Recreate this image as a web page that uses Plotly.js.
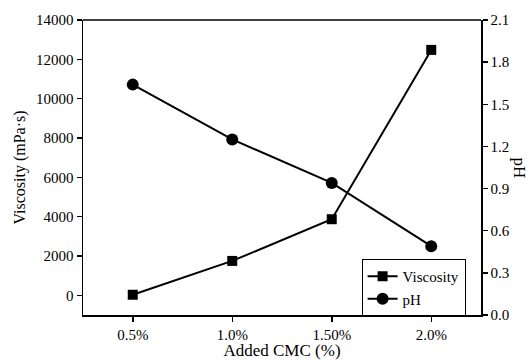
<!DOCTYPE html>
<html><head><meta charset="utf-8">
<script src="https://cdn.plot.ly/plotly-3.0.1.min.js"></script>
<style>html,body{margin:0;padding:0;background:#fff}#c{width:530px;height:360px}</style>
</head><body><div id="c"></div>
<script>
const categories = ["0.5%", "1.0%", "1.50%", "2.0%"];
const viscosity = [30, 1750, 3870, 12480];
const pH = [1.64, 1.25, 0.94, 0.49];
const viscTicks = [0, 2000, 4000, 6000, 8000, 10000, 12000, 14000];
const pHTicks = [0, 0.3, 0.6, 0.9, 1.2, 1.5, 1.8, 2.1];

const fam = "'Liberation Serif', 'Times New Roman', serif";
const f = (s) => ({family: fam, size: s, color: "#000"});
const traces = [
  {x: categories, y: viscosity, name: "Viscosity", type: "scatter", mode: "lines+markers",
   line: {color: "#000", width: 2}, marker: {symbol: "square", size: 10, color: "#000"}},
  {x: categories, y: pH, name: "pH", type: "scatter", mode: "lines+markers", yaxis: "y2",
   line: {color: "#000", width: 2}, marker: {symbol: "circle", size: 12, color: "#000"}}
];
const axisCommon = {showline: true, linecolor: "#000", linewidth: 1.5, ticks: "outside",
  ticklen: 5, tickwidth: 1.5, tickcolor: "#000", showgrid: false, zeroline: false,
  tickfont: f(15)};
const layout = {
  width: 530, height: 360, margin: {l: 83, r: 49, t: 20, b: 45},
  paper_bgcolor: "#fff", plot_bgcolor: "#fff", font: f(15),
  showlegend: true,
  legend: {x: 0.7, y: 0.19, xanchor: "left", yanchor: "top", bordercolor: "#000", borderwidth: 1,
    bgcolor: "#fff", font: f(15), tracegroupgap: 0, itemwidth: 30},
  xaxis: Object.assign({}, axisCommon, {type: "category", range: [-0.5, 3.5],
    title: {text: "Added CMC (%)", font: f(17), standoff: 2}}),
  yaxis: Object.assign({}, axisCommon, {range: [-1000, 14000], tickvals: viscTicks,
    ticktext: viscTicks.map(String),
    title: {text: "Viscosity (mPa·s)", font: f(16), standoff: 6}}),
  yaxis2: Object.assign({}, axisCommon, {overlaying: "y", side: "right", range: [0, 2.1],
    tickvals: pHTicks, ticktext: pHTicks.map(v => v.toFixed(1))}),
  annotations: [{text: "pH", xref: "paper", yref: "paper", x: 1, y: 0.5, xshift: 38,
    showarrow: false, textangle: 90, font: f(17), xanchor: "center", yanchor: "middle"}],
  shapes: [{type: "line", xref: "paper", yref: "paper", x0: 0, x1: 1, y0: 1, y1: 1,
    line: {color: "#000", width: 1.5}}]
};
Plotly.newPlot("c", traces, layout, {displayModeBar: false, staticPlot: true});
</script></body></html>
